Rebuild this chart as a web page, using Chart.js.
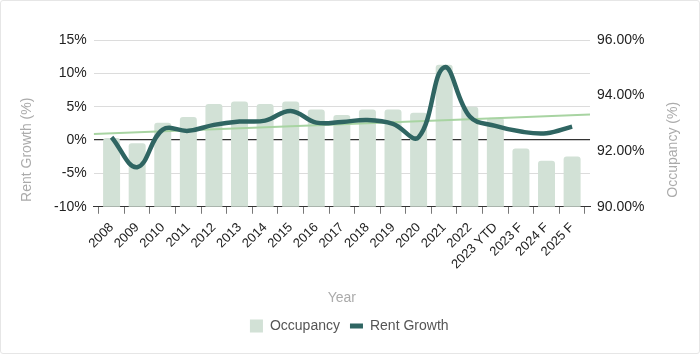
<!DOCTYPE html>
<html>
<head>
<meta charset="utf-8">
<script src="https://cdn.jsdelivr.net/npm/chart.js@4"></script>
<style>
  html, body { margin: 0; padding: 0; background: #fff; }
  #wrap {
    width: 700px; height: 354px; box-sizing: border-box;
    border: 1px solid #e6e6e6; border-radius: 3px; position: relative;
  }
</style>
</head>
<body>
<div id="wrap"><canvas id="chart"></canvas></div>
<script>
// Categories
const YEARS = ['2008', '2009', '2010', '2011', '2012', '2013', '2014', '2015', '2016', '2017',
    '2018', '2019', '2020', '2021', '2022', '2023 YTD', '2023 F', '2024 F', '2025 F'];

// Occupancy (%), right axis
const OCCUPANCY = [92.47, 92.29, 93.02, 93.23, 93.70, 93.79, 93.70, 93.79, 93.50, 93.30,
    93.50, 93.50, 93.38, 95.11, 93.60, 93.20, 92.10, 91.66, 91.81];

// Rent growth (%), left axis
const RENT_GROWTH = [0.43, -4.06, 1.57, 1.38, 2.28, 2.77, 2.92, 4.37, 2.62, 2.72,
    3.02, 2.43, 0.43, 10.9, 3.52, 2.13, 1.27, 1.03, 2.02];

// Trend line across the plot (start / end value, left axis)
const TREND = [0.9, 3.85];

const FONT = 'Liberation Sans, Arial, Helvetica, sans-serif';
const TITLE_GREY = '#ababab';

// Draw the two side titles (both read bottom-to-top)
const sideTitles = {
    id: 'sideTitles',
    afterDraw(chart) {
        const { ctx, chartArea } = chart;
        const cy = chartArea.bottom - 57;
        ctx.save();
        ctx.font = '14px ' + FONT;
        ctx.fillStyle = TITLE_GREY;
        ctx.textAlign = 'center';
        ctx.textBaseline = 'middle';
        [['Rent Growth (%)', 26], ['Occupancy (%)', chart.width - 26]].forEach(([text, x]) => {
            ctx.save();
            ctx.translate(x, cy);
            ctx.rotate(-Math.PI / 2);
            ctx.fillText(text, 0, 0);
            ctx.restore();
        });
        ctx.restore();
    }
};

new Chart(document.getElementById('chart'), {
    type: 'bar',
    data: {
        labels: YEARS,
        datasets: [{
            label: 'Occupancy',
            data: OCCUPANCY,
            yAxisID: 'y1',
            backgroundColor: '#d2e1d6',
            borderWidth: 0,
            borderRadius: 3,
            grouped: false,
            categoryPercentage: 0.8,
            barPercentage: 0.83,
            order: 3
        }, {
            type: 'line',
            label: 'Trend',
            data: TREND.map((v, i) => ({ x: i, y: v })),
            xAxisID: 'xTrend',
            yAxisID: 'y',
            borderColor: '#a8d4a2',
            borderWidth: 2,
            pointRadius: 0,
            order: 2
        }, {
            type: 'line',
            label: 'Rent Growth',
            data: RENT_GROWTH,
            yAxisID: 'y',
            borderColor: '#2f6562',
            backgroundColor: '#2f6562',
            borderWidth: 4.5,
            pointRadius: 0,
            tension: 0.4,
            order: 1
        }]
    },
    options: {
        responsive: true,
        maintainAspectRatio: false,
        animation: false,
        layout: { padding: { left: 46, right: 47.5, top: 39, bottom: 10 } },
        scales: {
            x: {
                offset: true,
                afterBuildTicks(scale) {
                    // widen the category range a little so the plot runs past the outer bars
                    if (typeof scale._startValue === 'number') {
                        scale._startValue = -0.7;
                        scale._valueRange = 19.4;
                    }
                },
                grid: { drawOnChartArea: false, drawTicks: true, tickLength: 7, color: '#777' },
                border: { display: true, color: '#333' },
                ticks: {
                    color: '#222', font: { family: FONT, size: 13 },
                    maxRotation: 45, minRotation: 45, padding: 6, autoSkip: false
                },
                title: {
                    display: true, text: 'Year', color: TITLE_GREY,
                    font: { family: FONT, size: 14 }, padding: { top: 12, bottom: 2 }
                }
            },
            xTrend: {
                type: 'linear', display: false, offset: false, min: 0, max: 1
            },
            y: {
                position: 'left',
                min: -10, max: 15,
                ticks: {
                    stepSize: 5, color: '#222', padding: 7,
                    font: { family: FONT, size: 14 },
                    callback: v => v + '%'
                },
                grid: {
                    drawTicks: false,
                    color: c => (c.tick && (c.tick.value === 0 || c.tick.value === -10)) ? '#333' : '#dcdcdc',
                    lineWidth: c => (c.tick && c.tick.value === 0) ? 1.3 : 1
                },
                border: { display: false }
            },
            y1: {
                position: 'right',
                min: 90, max: 96,
                ticks: {
                    stepSize: 2, color: '#222', padding: 7,
                    font: { family: FONT, size: 14 },
                    callback: v => v.toFixed(2) + '%'
                },
                grid: { drawOnChartArea: false, drawTicks: false },
                border: { display: false }
            }
        },
        plugins: {
            legend: {
                position: 'bottom',
                labels: {
                    color: '#555',
                    font: { family: FONT, size: 14 },
                    usePointStyle: true,
                    pointStyleWidth: 13,
                    boxHeight: 13,
                    padding: 10,
                    sort: (a, b) => a.datasetIndex - b.datasetIndex,
                    generateLabels(chart) {
                        const items = Chart.defaults.plugins.legend.labels.generateLabels(chart);
                        return items
                            .filter(it => it.text !== 'Trend')
                            .map(it => Object.assign(it, it.text === 'Occupancy'
                                ? { pointStyle: 'rect', lineWidth: 0 }
                                : { pointStyle: 'line', lineWidth: 5 }));
                    }
                }
            },
            tooltip: { enabled: false }
        }
    },
    plugins: [sideTitles]
});
</script>
</body>
</html>
